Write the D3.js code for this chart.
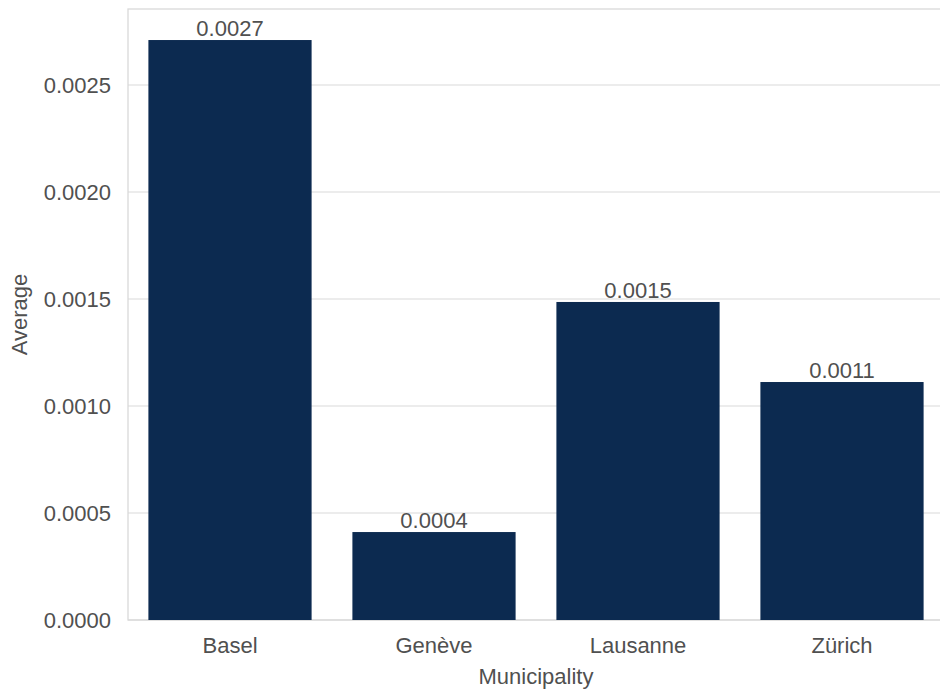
<!DOCTYPE html>
<html><head><meta charset="utf-8">
<script src="https://cdn.jsdelivr.net/npm/d3@7"></script>
<style>
body{margin:0;background:#fff;}
text{font-family:"Liberation Sans",Arial,Helvetica,sans-serif;}
</style></head>
<body><svg id="c" width="940" height="693"></svg>
<script>
const categories = ["Basel","Genève","Lausanne","Zürich"];
const values = [0.00271, 0.000411, 0.001486, 0.001112];
const valueLabels = ["0.0027","0.0004","0.0015","0.0011"];
const yTicks = [0,0.0005,0.001,0.0015,0.002,0.0025];

const svg = d3.select("#c");
const L = 128, R = 944, T = 9, B = 620;
const x = d3.scaleBand().domain(categories).range([L,R]).paddingInner(0.2).paddingOuter(0.1);
const y = d3.scaleLinear().domain([0, 0.002855]).range([B,T]);
const textCol = "#505050", gridCol = "#d9d9d9";
const fs = 22;

// grid
svg.append("g").selectAll("line").data(yTicks).join("line")
  .attr("x1",L).attr("x2",R).attr("y1",d=>y(d)).attr("y2",d=>y(d))
  .attr("stroke",gridCol).attr("stroke-width",1.1);
// spines
svg.append("rect").attr("x",L).attr("y",T).attr("width",R-L).attr("height",B-T)
  .attr("fill","none").attr("stroke",gridCol).attr("stroke-width",1.3);

// bars
svg.append("g").selectAll("rect").data(categories).join("rect")
  .attr("x",d=>x(d)).attr("width",x.bandwidth())
  .attr("y",(d,i)=>y(values[i])).attr("height",(d,i)=>B-y(values[i]))
  .attr("fill","#0c2a50");

// value labels
svg.append("g").selectAll("text").data(categories).join("text")
  .attr("x",d=>x(d)+x.bandwidth()/2).attr("y",(d,i)=>y(values[i])-4)
  .attr("text-anchor","middle").attr("font-size",fs).attr("fill",textCol)
  .text((d,i)=>valueLabels[i]);

// y axis
const yAxis = d3.axisLeft(y).tickValues(yTicks).tickFormat(d3.format(".4f")).tickSize(0).tickPadding(17);
const gy = svg.append("g").attr("transform",`translate(${L},0)`).call(yAxis);
gy.select(".domain").remove();
gy.selectAll("text").attr("font-size",fs).attr("fill",textCol).attr("dy","0.35em");

// x axis
const xAxis = d3.axisBottom(x).tickSize(0).tickPadding(17);
const gx = svg.append("g").attr("transform",`translate(0,${B})`).call(xAxis);
gx.select(".domain").remove();
gx.selectAll("text").attr("font-size",fs).attr("fill",textCol);

// axis titles
svg.append("text").attr("x",536).attr("y",684).attr("text-anchor","middle")
  .attr("font-size",fs).attr("fill",textCol).text("Municipality");
svg.append("text").attr("transform",`translate(27,${(T+B)/2}) rotate(-90)`).attr("text-anchor","middle")
  .attr("font-size",fs).attr("fill",textCol).text("Average");
</script></body></html>
